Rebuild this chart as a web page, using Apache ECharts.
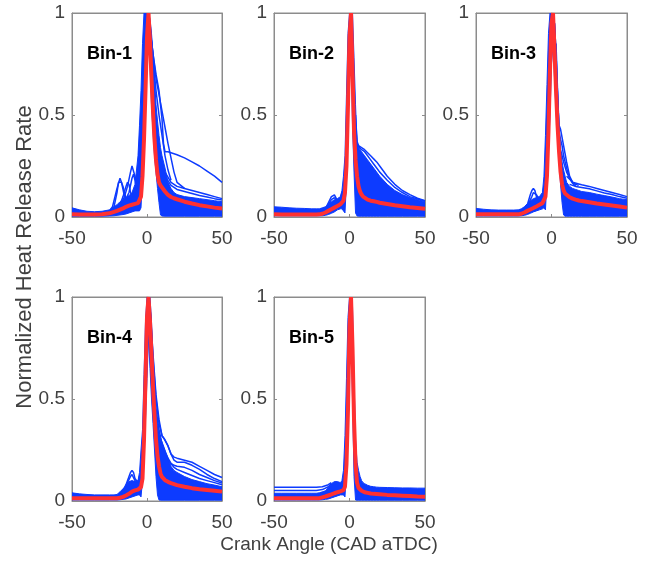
<!DOCTYPE html>
<html><head><meta charset="utf-8">
<script src="https://cdn.jsdelivr.net/npm/echarts@6/dist/echarts.min.js"></script>
<style>html,body{margin:0;padding:0;background:#fff}#c{width:652px;height:561px}</style>
</head><body><div id="c"></div>
<script>
// ---- data ----
const xs = [-50,-45,-40,-35,-30,-25,-22,-20,-18,-16,-14,-12,-10,-8,-6,-5,-4,-3,-2,-1,0,1,2,3,4,5,6,7,8,9,10,12,14,16,18,20,25,30,35,40,45,50];
const xTicks = [-50, 0, 50];
const yTicks = [0, 0.5, 1];
const binNames = ['Bin-1','Bin-2','Bin-3','Bin-4','Bin-5'];

const mean1  = [0.013,0.012,0.012,0.012,0.013,0.018,0.025,0.03,0.036,0.042,0.05,0.056,0.06,0.064,0.068,0.075,0.1,0.2,0.38,0.62,0.88,1.0,0.86,0.68,0.52,0.38,0.28,0.21,0.17,0.155,0.148,0.125,0.108,0.098,0.092,0.087,0.075,0.066,0.058,0.052,0.046,0.042];
const lower1 = [0.004,0.004,0.004,0.004,0.004,0.005,0.006,0.008,0.01,0.012,0.015,0.02,0.025,0.03,0.03,0.03,0.045,0.2,0.4,0.62,0.85,0.93,0.75,0.55,0.42,0.3,0.22,0.14,0.07,0.01,0.005,0.004,0.004,0.004,0.004,0.004,0.004,0.004,0.004,0.004,0.004,0.004];
const upper1 = [0.045,0.035,0.028,0.026,0.028,0.035,0.05,0.06,0.075,0.085,0.095,0.105,0.12,0.16,0.3,0.45,0.62,0.85,1.0,1.0,1.0,1.0,0.97,0.9,0.8,0.68,0.55,0.47,0.4,0.34,0.3,0.24,0.17,0.14,0.12,0.11,0.1,0.095,0.09,0.085,0.08,0.075];

const mean2  = [0.013,0.012,0.012,0.012,0.012,0.012,0.012,0.013,0.016,0.022,0.03,0.038,0.046,0.054,0.062,0.068,0.08,0.12,0.25,0.55,0.88,1.0,0.72,0.42,0.28,0.2,0.15,0.125,0.11,0.1,0.093,0.085,0.08,0.077,0.074,0.07,0.064,0.058,0.053,0.048,0.044,0.04];
const lower2 = [0.006,0.006,0.006,0.006,0.006,0.006,0.006,0.006,0.006,0.008,0.012,0.018,0.025,0.035,0.04,0.04,0.03,0.02,0.17,0.45,0.7,0.85,0.45,0.22,0.02,0.005,0.004,0.004,0.004,0.004,0.004,0.004,0.004,0.004,0.004,0.004,0.004,0.004,0.004,0.004,0.004,0.004];
const upper2 = [0.05,0.048,0.045,0.043,0.042,0.04,0.04,0.04,0.045,0.05,0.06,0.075,0.085,0.09,0.1,0.13,0.2,0.3,0.6,0.9,1.0,1.0,1.0,0.78,0.55,0.36,0.34,0.33,0.32,0.31,0.3,0.28,0.26,0.24,0.22,0.2,0.16,0.13,0.11,0.095,0.085,0.075];

const mean3  = [0.013,0.013,0.013,0.013,0.013,0.013,0.013,0.016,0.022,0.03,0.037,0.044,0.052,0.06,0.068,0.075,0.1,0.2,0.42,0.72,0.95,1.0,0.82,0.62,0.45,0.32,0.22,0.16,0.13,0.115,0.107,0.097,0.09,0.085,0.081,0.078,0.072,0.066,0.061,0.056,0.051,0.046];
const lower3 = [0.005,0.005,0.005,0.005,0.005,0.005,0.005,0.006,0.008,0.012,0.018,0.025,0.03,0.035,0.04,0.045,0.035,0.18,0.33,0.5,0.75,0.85,0.68,0.52,0.4,0.28,0.16,0.07,0.01,0.004,0.004,0.004,0.004,0.004,0.004,0.004,0.004,0.004,0.004,0.004,0.004,0.004];
const upper3 = [0.042,0.038,0.035,0.034,0.034,0.034,0.035,0.04,0.05,0.065,0.08,0.09,0.095,0.1,0.12,0.2,0.4,0.65,0.9,1.0,1.0,1.0,0.95,0.78,0.58,0.4,0.32,0.27,0.23,0.2,0.17,0.15,0.14,0.135,0.13,0.125,0.12,0.112,0.105,0.098,0.09,0.085];

const mean4  = [0.013,0.013,0.013,0.013,0.013,0.013,0.013,0.014,0.016,0.02,0.027,0.035,0.046,0.052,0.056,0.06,0.068,0.11,0.3,0.6,0.9,1.0,0.88,0.72,0.56,0.42,0.3,0.22,0.17,0.135,0.118,0.102,0.094,0.088,0.083,0.078,0.07,0.063,0.058,0.054,0.05,0.046];
const lower4 = [0.005,0.005,0.005,0.005,0.005,0.005,0.005,0.005,0.006,0.008,0.01,0.015,0.02,0.025,0.03,0.03,0.02,0.1,0.25,0.4,0.6,0.8,0.65,0.5,0.38,0.25,0.12,0.03,0.005,0.004,0.004,0.004,0.004,0.004,0.004,0.004,0.004,0.004,0.004,0.004,0.004,0.004];
const upper4 = [0.04,0.035,0.032,0.03,0.03,0.03,0.03,0.032,0.045,0.06,0.075,0.095,0.1,0.095,0.1,0.14,0.25,0.35,0.62,0.88,1.0,1.0,1.0,0.88,0.68,0.52,0.44,0.38,0.34,0.31,0.29,0.25,0.21,0.17,0.15,0.14,0.12,0.105,0.095,0.085,0.078,0.07];

const mean5  = [0.013,0.013,0.013,0.013,0.013,0.013,0.013,0.014,0.018,0.022,0.027,0.032,0.038,0.043,0.047,0.05,0.053,0.07,0.18,0.45,0.85,1.0,0.75,0.4,0.18,0.09,0.064,0.055,0.05,0.046,0.043,0.04,0.037,0.035,0.034,0.033,0.03,0.028,0.026,0.024,0.022,0.021];
const lower5 = [0.005,0.005,0.005,0.005,0.005,0.005,0.005,0.005,0.006,0.008,0.01,0.015,0.02,0.025,0.03,0.03,0.03,0.02,0.15,0.4,0.72,0.85,0.5,0.12,0.005,0.004,0.004,0.004,0.004,0.004,0.004,0.004,0.004,0.004,0.004,0.004,0.004,0.004,0.004,0.004,0.004,0.004];
const upper5 = [0.038,0.038,0.038,0.038,0.038,0.038,0.038,0.04,0.045,0.05,0.065,0.085,0.095,0.095,0.09,0.1,0.15,0.32,0.6,0.9,1.0,1.0,0.95,0.6,0.3,0.19,0.15,0.12,0.1,0.09,0.085,0.077,0.072,0.07,0.068,0.067,0.066,0.065,0.064,0.064,0.063,0.063];

// individual outlying cycles: x-list and y-list
const p1o1x = [0,1,2,4,6,8,10,11,12,14,16,20,25,30,35,40,45,50];
const p1o1y = [0.95,1,0.92,0.8,0.7,0.62,0.48,0.36,0.32,0.32,0.315,0.305,0.29,0.27,0.25,0.225,0.2,0.17];
const p1o2x = [0,1,2,4,6,8,10,12,14,16,18,20,25];
const p1o2y = [0.95,1,0.92,0.8,0.68,0.6,0.52,0.44,0.36,0.29,0.22,0.17,0.14];
const p1o3x = [2,4,6,8,10,12,14,16];
const p1o3y = [0.95,0.78,0.62,0.5,0.4,0.3,0.23,0.18];
const p1t1x = [12,16,20,25,30,35,40,45,50];
const p1t1y = [0.22,0.17,0.15,0.14,0.13,0.12,0.11,0.1,0.09];
const p1t2x = [12,16,20,25,30,35,40,45,50];
const p1t2y = [0.2,0.155,0.135,0.125,0.115,0.105,0.098,0.09,0.083];
const p1b1x = [-30,-26,-23,-20,-18,-16,-14,-12,-10,-8,-6,-5,-4];
const p1b1y = [0.01,0.02,0.05,0.14,0.19,0.15,0.09,0.08,0.09,0.1,0.14,0.25,0.45];
const p1b2x = [-22,-18,-15,-13,-11,-10,-9,-8,-7,-6,-5,-4];
const p1b2y = [0.02,0.05,0.1,0.15,0.22,0.25,0.25,0.2,0.15,0.17,0.3,0.5];
const p1b3x = [-22,-18,-16,-14,-13,-12,-11,-10,-8,-6,-5];
const p1b3y = [0.02,0.06,0.1,0.15,0.17,0.16,0.12,0.1,0.12,0.2,0.35];
const p1b4x = [-20,-16,-12,-10,-9,-8,-7,-6,-5];
const p1b4y = [0.03,0.06,0.12,0.19,0.21,0.18,0.14,0.18,0.32];
const p1b5x = [-26,-22,-20,-19,-17,-15,-13,-11];
const p1b5y = [0.015,0.05,0.12,0.17,0.17,0.1,0.08,0.09];

const p2o1x = [4,5,6,8,10,12,14,16,18,20,25,30,35,40,45,50];
const p2o1y = [0.5,0.37,0.35,0.34,0.33,0.315,0.3,0.285,0.27,0.25,0.2,0.16,0.13,0.11,0.092,0.08];
const p2o2x = [4,5,6,8,10,12,14,16,18,20,25,30,35,40,45,50];
const p2o2y = [0.45,0.36,0.345,0.33,0.32,0.3,0.28,0.26,0.24,0.22,0.18,0.145,0.12,0.1,0.088,0.078];
const p2b1x = [-20,-16,-14,-12,-10,-9,-8,-6,-5];
const p2b1y = [0.015,0.04,0.07,0.1,0.108,0.1,0.08,0.09,0.12];
const p2b2x = [-18,-15,-12,-10,-8,-6];
const p2b2y = [0.02,0.05,0.085,0.095,0.075,0.09];

const p3o1x = [2,3,4,5,6,7,8,9,10,12,14,16,18];
const p3o1y = [0.95,0.8,0.6,0.45,0.43,0.39,0.35,0.31,0.27,0.2,0.17,0.16,0.155];
const p3o2x = [2,3,4,5,6,7,8,10,12,14,16];
const p3o2y = [0.95,0.8,0.6,0.42,0.38,0.35,0.3,0.24,0.19,0.165,0.15];
const p3o3x = [3,4,5,6,7,8,10,12,14];
const p3o3y = [0.85,0.62,0.4,0.33,0.3,0.27,0.22,0.19,0.17];
const p3t1x = [10,14,18,20,25,30,35,40,45,50];
const p3t1y = [0.2,0.17,0.162,0.158,0.15,0.14,0.13,0.12,0.11,0.1];
const p3t2x = [12,16,20,25,30,35,40,45,50];
const p3t2y = [0.16,0.15,0.145,0.138,0.128,0.118,0.11,0.1,0.092];
const p3b1x = [-20,-16,-14,-13,-12,-11,-10,-8,-6,-5];
const p3b1y = [0.02,0.06,0.11,0.13,0.14,0.13,0.1,0.08,0.1,0.15];
const p3b2x = [-18,-15,-13,-12,-10,-8,-6];
const p3b2y = [0.03,0.07,0.1,0.12,0.11,0.085,0.1];

const p4o1x = [1,2,4,6,8,10,11,12,14,16,18,20,25,30,35,40,45,50];
const p4o1y = [1,0.95,0.72,0.52,0.4,0.32,0.31,0.31,0.27,0.23,0.215,0.21,0.2,0.19,0.17,0.15,0.13,0.115];
const p4o2x = [2,4,6,8,10,12,14,16,18,20,25,30,35,40,45,50];
const p4o2y = [0.95,0.7,0.5,0.38,0.32,0.3,0.27,0.23,0.2,0.19,0.19,0.175,0.155,0.13,0.11,0.095];
const p4o3x = [4,6,8,10,12,14,16,18,20,25,30,35,40,45,50];
const p4o3y = [0.65,0.45,0.35,0.28,0.24,0.21,0.185,0.175,0.17,0.165,0.15,0.13,0.115,0.1,0.088];
const p4t1x = [14,18,20,25,30,35,40,45,50];
const p4t1y = [0.2,0.165,0.155,0.14,0.125,0.11,0.1,0.09,0.08];
const p4b1x = [-20,-16,-14,-12,-11,-10,-9,-8,-6,-5];
const p4b1y = [0.02,0.05,0.08,0.12,0.14,0.15,0.14,0.11,0.09,0.12];
const p4b2x = [-18,-15,-13,-11,-10,-8,-6];
const p4b2y = [0.03,0.06,0.09,0.12,0.13,0.1,0.09];

const p5f1x = [-50,-40,-30,-22,-18,-14,-12];
const p5f1y = [0.052,0.052,0.052,0.052,0.056,0.07,0.085];
const p5f2x = [-50,-40,-30,-22,-18,-14,-12];
const p5f2y = [0.067,0.067,0.067,0.067,0.07,0.08,0.09];

// ---- assembly ----
const BLUE = '#0d3bff', RED = '#ff3030', AX = '#8c8c8c', TXT = '#404040';
const FONT = 'Liberation Sans, Arial, sans-serif';
const panels = [
  {mean: mean1, lower: lower1, upper: upper1, extra: [[p1o1x,p1o1y],[p1o2x,p1o2y],[p1o3x,p1o3y],[p1t1x,p1t1y],[p1t2x,p1t2y],[p1b1x,p1b1y],[p1b2x,p1b2y],[p1b3x,p1b3y],[p1b4x,p1b4y],[p1b5x,p1b5y]]},
  {mean: mean2, lower: lower2, upper: upper2, extra: [[p2o1x,p2o1y],[p2o2x,p2o2y],[p2b1x,p2b1y],[p2b2x,p2b2y]]},
  {mean: mean3, lower: lower3, upper: upper3, extra: [[p3o1x,p3o1y],[p3o2x,p3o2y],[p3o3x,p3o3y],[p3t1x,p3t1y],[p3t2x,p3t2y],[p3b1x,p3b1y],[p3b2x,p3b2y]]},
  {mean: mean4, lower: lower4, upper: upper4, extra: [[p4o1x,p4o1y],[p4o2x,p4o2y],[p4o3x,p4o3y],[p4t1x,p4t1y],[p4b1x,p4b1y],[p4b2x,p4b2y]]},
  {mean: mean5, lower: lower5, upper: upper5, extra: [[p5f1x,p5f1y],[p5f2x,p5f2y]]}
];
const boxes = [
  {left: 72, top: 13, width: 150, height: 204},
  {left: 274, top: 13, width: 151, height: 204},
  {left: 476, top: 13, width: 151, height: 204},
  {left: 72, top: 297, width: 150, height: 204},
  {left: 274, top: 297, width: 151, height: 204}
];

const grid = boxes.map(b => Object.assign({show: true, borderColor: AX, borderWidth: 1, containLabel: false}, b));
const xAxis = [], yAxis = [], series = [], graphic = [];
const tickLab = {color: TXT, fontSize: 19, fontFamily: FONT};
const line = {show: true, onZero: false, lineStyle: {color: AX}};
const tick = {inside: true, length: 3, lineStyle: {color: AX}};
boxes.forEach((b, i) => {
  xAxis.push({type: 'value', gridIndex: i, min: xTicks[0], max: xTicks[2], interval: 50,
    axisLine: line, axisTick: tick, axisLabel: Object.assign({margin: 12}, tickLab), splitLine: {show: false}});
  yAxis.push({type: 'value', gridIndex: i, min: yTicks[0], max: yTicks[2], interval: 0.5,
    axisLine: line, axisTick: tick, axisLabel: Object.assign({margin: 7, formatter: v => String(v)}, tickLab), splitLine: {show: false}});
});
boxes.forEach((b, i) => {
  xAxis.push({type: 'value', gridIndex: i, position: 'top', min: -50, max: 50, interval: 50,
    axisLine: line, axisTick: tick, axisLabel: {show: false}, splitLine: {show: false}});
  yAxis.push({type: 'value', gridIndex: i, position: 'right', min: 0, max: 1, interval: 0.5,
    axisLine: line, axisTick: tick, axisLabel: {show: false}, splitLine: {show: false}});
});

panels.forEach((p, i) => {
  // dense bundle of cycles: filled between lower and upper envelopes
  series.push({
    type: 'custom', xAxisIndex: i, yAxisIndex: i, silent: true, clip: true, z: 2,
    data: [[xs[0], p.lower[0]]],
    renderItem: (params, api) => {
      const pts = [];
      xs.forEach((x, k) => pts.push(api.coord([x, p.upper[k]])));
      for (let k = xs.length - 1; k >= 0; k--) pts.push(api.coord([xs[k], p.lower[k]]));
      return {type: 'polygon', shape: {points: pts}, style: {fill: BLUE, stroke: BLUE, lineWidth: 1}};
    }
  });
  p.extra.forEach(([ex, ey]) => {
    series.push({type: 'line', xAxisIndex: i, yAxisIndex: i, silent: true, symbol: 'none', z: 3,
      data: ex.map((x, k) => [x, ey[k]]), lineStyle: {color: BLUE, width: 1.5}});
  });
  series.push({type: 'line', xAxisIndex: i, yAxisIndex: i, silent: true, symbol: 'none', z: 5,
    data: xs.map((x, k) => [x, p.mean[k]]), lineStyle: {color: RED, width: 4}});
  graphic.push({type: 'text', left: boxes[i].left + 15, top: boxes[i].top + 32,
    style: {text: binNames[i], fill: '#000', font: 'bold 18px ' + FONT}});
});

graphic.push({type: 'text', x: 329, y: 545, style: {text: 'Crank Angle (CAD aTDC)', fill: TXT, font: '19px ' + FONT, textAlign: 'center', textVerticalAlign: 'middle'}});
graphic.push({type: 'text', x: 25, y: 257, rotation: Math.PI / 2, style: {text: 'Normalized Heat Release Rate', fill: TXT, font: '22px ' + FONT, textAlign: 'center', textVerticalAlign: 'middle'}});

const chart = echarts.init(document.getElementById('c'), null, {renderer: 'canvas'});
chart.setOption({animation: false, backgroundColor: '#fff', grid, xAxis, yAxis, series, graphic});
</script></body></html>
